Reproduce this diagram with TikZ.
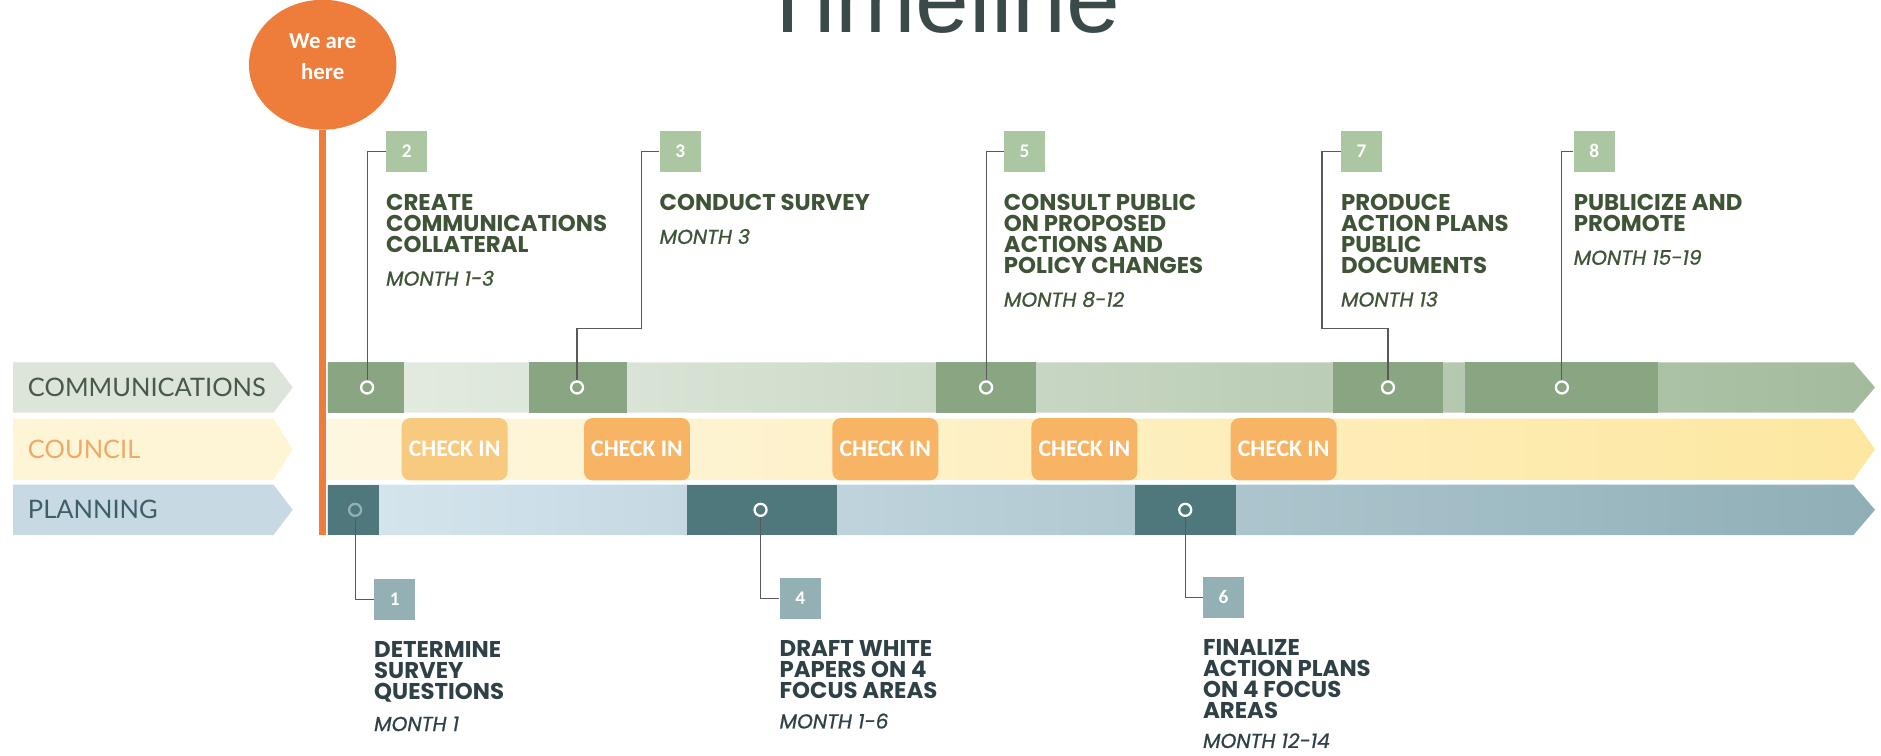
\documentclass[tikz,border=0pt]{standalone}
\usepackage{fontspec}
\setmainfont{Poppins}
\newfontfamily\monthfont{Poppins}[FakeBold=0.8]
\newfontfamily\lanefont{Lato}
\newfontfamily\calfont{Carlito}
\newfontfamily\titlefont{Liberation Sans}
\usetikzlibrary{positioning,shapes.geometric}
\definecolor{tlorange}{RGB}{238,125,59}
\definecolor{commlight}{RGB}{230,237,228}
\definecolor{commdark}{RGB}{163,187,156}
\definecolor{commblock}{RGB}{137,165,129}
\definecolor{commlabel}{RGB}{221,229,218}
\definecolor{commtext}{RGB}{71,90,69}
\definecolor{counlight}{RGB}{254,247,224}
\definecolor{coundark}{RGB}{253,231,160}
\definecolor{counlabel}{RGB}{254,245,214}
\definecolor{countext}{RGB}{238,170,102}
\definecolor{checkbox}{RGB}{247,180,101}
\definecolor{checkpale}{RGB}{248,202,128}
\definecolor{planlight}{RGB}{214,230,239}
\definecolor{plandark}{RGB}{143,174,182}
\definecolor{planblock}{RGB}{78,120,124}
\definecolor{planlabel}{RGB}{199,217,226}
\definecolor{plantext}{RGB}{62,95,106}
\definecolor{topsq}{RGB}{170,199,162}
\definecolor{botsq}{RGB}{147,176,180}
\definecolor{toptext}{RGB}{63,83,55}
\definecolor{bottext}{RGB}{47,65,70}
\definecolor{titlegray}{RGB}{58,74,72}

\begin{document}
\begin{tikzpicture}[x=0.024cm,y=-0.024cm,
  lanelabel/.style={anchor=west,inner sep=0pt,font=\lanefont\fontsize{14.5}{14.5}\selectfont},
  checkin/.style={fill=checkbox,rounded corners=5pt,minimum width=2.12cm,minimum height=1.25cm,
    inner sep=0pt,text=white,font=\calfont\bfseries\fontsize{13.5}{13.5}\selectfont},
  ring/.style={circle,draw=white,line width=1.3pt,minimum size=0.24cm,inner sep=0pt},
  topnum/.style={fill=topsq,minimum width=0.82cm,minimum height=0.82cm,inner sep=0pt,
    text=white,font=\calfont\bfseries\fontsize{11}{11}\selectfont},
  botnum/.style={topnum,fill=botsq},
  task/.style={align=left,inner sep=0pt,font=\bfseries\fontsize{13}{11.9}\selectfont},
  monthtext/.style={inner sep=0pt,font=\monthfont\itshape\fontsize{11.5}{11.5}\selectfont},
  link/.style={draw=black!65,line width=0.6pt},
]
\useasboundingbox (0,0) rectangle (1568,630);
\clip (0,0) rectangle (1568,630);

% Title
\node[anchor=base,text=titlegray,font=\titlefont\fontsize{55}{55}\selectfont] (title) at (783,27) {Timeline};

% Lane labels
\fill[commlabel] (11,302) -- (228,302) -- (244,323) -- (228,344) -- (11,344) -- cycle;
\fill[counlabel] (11,349) -- (228,349) -- (244,374.5) -- (228,400) -- (11,400) -- cycle;
\fill[planlabel] (11,404) -- (228,404) -- (244,425) -- (228,446) -- (11,446) -- cycle;
\node[lanelabel,text=commtext] (commlane) at (23,323) {COMMUNICATIONS};
\node[lanelabel,text=countext] (counlane) at (23,374.5) {COUNCIL};
\node[lanelabel,text=plantext] (planlane) at (23,425) {PLANNING};

% Lanes
\shade[left color=commlight,right color=commdark] (273,302) -- (1545,302) -- (1563,323) -- (1545,344) -- (273,344) -- cycle;
\shade[left color=counlight,right color=coundark] (273,349) -- (1545,349) -- (1563,374.5) -- (1545,400) -- (273,400) -- cycle;
\shade[left color=planlight,right color=plandark] (273,404) -- (1545,404) -- (1563,425) -- (1545,446) -- (273,446) -- cycle;

% Communications blocks
\fill[commblock] (273,302) rectangle (337,344);
\fill[commblock] (441,302) rectangle (523,344);
\fill[commblock] (780,302) rectangle (864,344);
\fill[commblock] (1111,302) rectangle (1203,344);
\fill[commblock] (1221,302) rectangle (1382,344);

% Planning blocks
\fill[planblock] (273,404) rectangle (316,446);
\fill[planblock] (573,404) rectangle (698,446);
\fill[planblock] (946,404) rectangle (1030,446);

% Check ins
\node[checkin,fill=checkpale] (check1) at (379,374.5) {CHECK IN};
\node[checkin] (check2) at (531,374.5) {CHECK IN};
\node[checkin] (check3) at (738,374.5) {CHECK IN};
\node[checkin] (check4) at (904,374.5) {CHECK IN};
\node[checkin] (check5) at (1070,374.5) {CHECK IN};

% We are here
\node[ellipse,fill=tlorange,minimum width=2.95cm,minimum height=2.6cm,inner sep=0pt] (here) at (269,54) {};
\node[text=white,align=center,inner sep=0pt,font=\calfont\bfseries\fontsize{13}{17.5}\selectfont]
  (heretext) at ([yshift=0.16cm]here.center) {We are\\here};
\coordinate (hereend) at (269,446);
\draw[tlorange,line width=4pt] (here.south) -- (hereend);

% Milestone rings
\node[ring,fill=commblock] (c2) at (306,323) {};
\node[ring,fill=commblock] (c3) at (481,323) {};
\node[ring,fill=commblock] (c5) at (822,323) {};
\node[ring,fill=commblock] (c7) at (1157,323) {};
\node[ring,fill=commblock] (c8) at (1302,323) {};
\node[ring,fill=planblock,draw=botsq] (p1) at (296,425) {};
\node[ring,fill=planblock] (p4) at (634,425) {};
\node[ring,fill=planblock] (p6) at (988,425) {};

% Top milestones
\node[topnum] (s2) at (339,126) {2};
\node[topnum] (s3) at (567,126) {3};
\node[topnum] (s5) at (854,126) {5};
\node[topnum] (s7) at (1135,126) {7};
\node[topnum] (s8) at (1329,126) {8};

\node[task,text=toptext,below=0.44cm of s2.south west,anchor=north west] (t2) {CREATE\\COMMUNICATIONS\\COLLATERAL};
\node[task,text=toptext,below=0.44cm of s3.south west,anchor=north west] (t3) {CONDUCT SURVEY};
\node[task,text=toptext,below=0.44cm of s5.south west,anchor=north west] (t5) {CONSULT PUBLIC\\ON PROPOSED\\ACTIONS AND\\POLICY CHANGES};
\node[task,text=toptext,below=0.44cm of s7.south west,anchor=north west] (t7) {PRODUCE\\ACTION PLANS\\PUBLIC\\DOCUMENTS};
\node[task,text=toptext,below=0.44cm of s8.south west,anchor=north west] (t8) {PUBLICIZE AND\\PROMOTE};

\node[monthtext,text=toptext,below=10pt of t2.south west,anchor=north west] (m2) {MONTH 1-3};
\node[monthtext,text=toptext,below=10pt of t3.south west,anchor=north west] (m3) {MONTH 3};
\node[monthtext,text=toptext,below=10pt of t5.south west,anchor=north west] (m5) {MONTH 8-12};
\node[monthtext,text=toptext,below=10pt of t7.south west,anchor=north west] (m7) {MONTH 13};
\node[monthtext,text=toptext,below=10pt of t8.south west,anchor=north west] (m8) {MONTH 15-19};

% Bottom milestones
\node[botnum] (s1) at (329,499.5) {1};
\node[botnum] (s4) at (667,499) {4};
\node[botnum] (s6) at (1020,498) {6};

\node[task,text=bottext,below=0.42cm of s1.south west,anchor=north west] (t1) {DETERMINE\\SURVEY\\QUESTIONS};
\node[task,text=bottext,below=0.42cm of s4.south west,anchor=north west] (t4) {DRAFT WHITE\\PAPERS ON 4\\FOCUS AREAS};
\node[task,text=bottext,below=0.42cm of s6.south west,anchor=north west] (t6) {FINALIZE\\ACTION PLANS\\ON 4 FOCUS\\AREAS};

\node[monthtext,text=bottext,below=8pt of t1.south west,anchor=north west] (m1) {MONTH 1};
\node[monthtext,text=bottext,below=8pt of t4.south west,anchor=north west] (m4) {MONTH 1-6};
\node[monthtext,text=bottext,below=8pt of t6.south west,anchor=north west] (m6) {MONTH 12-14};

% Connectors
\coordinate (bend3) at (535,274);
\coordinate (bend7) at (1102,274);
\draw[link] (s2.west) -| (c2);
\draw[link] (s3.west) -| (bend3) -| (c3);
\draw[link] (s5.west) -| (c5);
\draw[link] (s7.west) -| (bend7) -| (c7);
\draw[link] (s8.west) -| (c8);
\draw[link] (p1) |- (s1.west);
\draw[link] (p4) |- (s4.west);
\draw[link] (p6) |- (s6.west);
\end{tikzpicture}
\end{document}
